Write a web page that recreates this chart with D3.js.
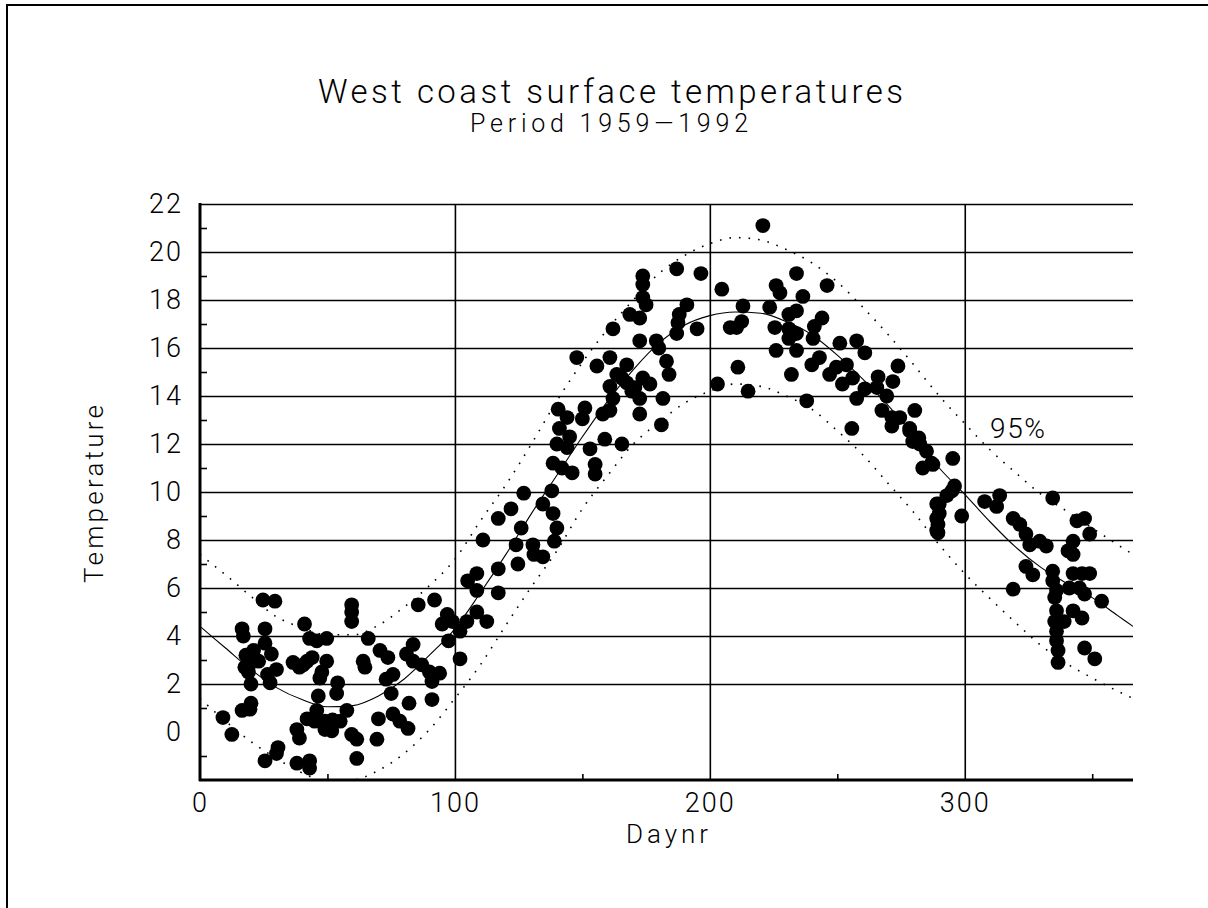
<!DOCTYPE html>
<html>
<head>
<meta charset="utf-8">
<script src="https://cdn.jsdelivr.net/npm/d3@7"></script>
<style>
  body { margin: 0; background: #fff; overflow: hidden; }
  text { font-family: Roboto, "DejaVu Sans", sans-serif; font-weight: 300; fill: #000; }
</style>
</head>
<body>
<svg id="chart" width="1208" height="908"></svg>
<script>
var obs0 = [[9,0.6],[12.5,-0.1],[16.5,4.3],[17,4.0],[18,3.2],[17.6,2.7],[20,2.9],[20,2.0],[16.5,0.9],[20,1.2],[19.6,0.95],
  [24.7,5.5],[29.4,5.45],[25.5,4.3],[25.5,3.7],[28,3.25],[23,2.95],[30,2.6],[27.5,2.05],[25.5,-1.2],[30.6,-0.65],[30,-0.9],
  [38,0.1],[39,-0.25],[42,0.55],[38,-1.3],[43,-1.2],[43,-1.5],[36.5,2.9],[39,2.7],[42,2.95],[44,3.1],[41,4.5],[43,3.9],
  [45.8,3.8],[49.7,3.9],[49.7,2.95],[47.8,2.5],[47,2.25],[46.4,1.5],[45.8,0.9],[45,0.45],[49,0.45],[49,0.1],[51.7,0.05],
  [54,2.05],[53.6,1.6],[57.6,0.9],[55,0.45],[59.5,-0.1],[61.5,-0.3],[61.5,-1.1],[59.5,5.3],[59.5,5.0],[59.5,4.6],[66,3.9],
  [64,2.95],[64.7,2.7],[70.6,3.4],[73.7,3.1],[69.4,-0.3],[70,0.55],[75.7,2.4],[73,2.2],[75,1.6],[75.7,0.75],[78.4,0.45],
  [81.6,0.15],[82,1.2],[85.6,5.3],[92,5.5],[81,3.25],[83.6,3.65],[83.6,2.95],[87,2.8],[90,2.5],[91,2.1],[91,1.35],[94,2.45],
  [97,4.9],[95,4.5],[97.5,3.8],[21,3.4],[19,2.5],[26.5,2.4],[40.5,2.8],[52,0.5]];
var obs1 = [[102,3.05],[99,4.6],[102,4.2],[104.7,4.6],[108.6,5.0],[112.5,4.6],[105,6.3],[108.6,6.6],[108.6,5.9],[117,5.8],
  [117,6.8],[111,8.0],[117,8.9],[122,9.3],[127,9.95],[124,7.8],[124.7,7.0],[126,8.5],[130.6,7.8],[134.5,7.3],[131,7.4],
  [134.5,9.5],[138,10.05],[138.5,9.1],[140,8.5],[139,7.95],[138.5,11.2],[142,11.0],[146,10.8],[140,12.0],[141,12.65],
  [140.5,13.45],[144,13.1],[145,12.3],[144,11.85],[147.8,15.6],[151,13.5],[150,13.05],[153,11.8],[155,11.15],[155,10.75],
  [155.7,15.25],[158,13.25],[158.8,12.2],[160.8,15.6],[160.8,14.4],[162,13.9],[160.8,13.4],[162,16.8],[165.5,12.0],
  [165.5,14.75],[167.4,15.3],[168.6,17.4],[169.4,14.2],[172.5,16.3],[172.5,17.25],[173.7,19.0],[173.7,18.65],[173.7,18.1],
  [175,17.8],[172.5,13.9],[172.5,13.25],[173.7,14.75],[170.6,14.35],[176.5,14.5],[179,16.3],[180,16.0],[183,15.45],
  [184,14.9],[181.6,13.9],[181,12.8],[187,19.3],[188,17.4],[187.5,17.05],[191,17.8],[187,16.6],[195,16.8],[196.5,19.1],
  [163.5,14.9],[167.4,14.55]];
var obs2 = [[220.8,21.1],[204.7,18.45],[213,17.75],[212.5,17.1],[210.5,16.85],[208,16.85],[211,15.2],[203,14.5],[215,14.2],
  [234,19.1],[226,18.6],[227.5,18.3],[223.5,17.7],[236.5,18.15],[246,18.6],[231,17.4],[234,17.55],[225.5,16.85],[231,16.8],
  [234,16.6],[231,16.4],[234,15.9],[226,15.9],[232,14.9],[238,13.8],[244,17.25],[241,16.9],[240.5,16.4],[240,15.3],
  [243,15.6],[251,16.2],[257.6,16.3],[260.8,15.8],[247,14.9],[249.6,15.2],[253.6,15.3],[252,14.5],[256,14.75],[257.6,13.9],
  [260.8,14.3],[255.7,12.65],[266,14.8],[265.5,14.35],[271.8,14.6],[273.8,15.25],[269.4,14.0],[267.5,13.4],[271.4,13.1],
  [271.4,12.75],[274.5,13.1],[280.4,13.4],[278.4,12.65],[279.6,12.1],[282.4,12.0],[285,11.7],[283.5,11.0],[287.5,11.15],
  [289,9.5],[289,8.9],[289,8.4]];
var obs3 = [[278.4,12.55],[282,12.25],[287,11.2],[295.3,11.4],[295,10.05],[296,10.25],[293,9.85],[290,9.5],[290,9.1],
  [289.5,8.65],[289.5,8.3],[298.8,9.0],[307.8,9.6],[313.7,9.85],[312.5,9.4],[319,8.9],[321.6,8.65],[324,8.25],[325.5,7.8],
  [329.4,7.95],[332,7.75],[334.5,9.75],[324,6.9],[326.7,6.55],[319,5.95],[334.5,6.7],[334.5,6.3],[336,5.9],[335.3,5.6],
  [336,5.05],[335.3,4.6],[336,4.2],[336,3.8],[336.6,3.4],[336.6,2.9],[339,4.6],[342.5,7.4],[344,8.8],[347,8.9],[349,8.25],
  [342.5,7.95],[340.5,7.55],[342.5,6.6],[346,6.6],[349,6.6],[341,6.0],[345,6.0],[347,5.75],[342.5,5.05],[346,4.75],
  [353.7,5.45],[347,3.5],[351,3.05]];

// fitted curve and 95% band, read every 10 days
var curveDays = [0,10,20,30,40,50,60,70,80,90,100,110,120,130,140,150,160,170,180,190,200,210,220,230,240,250,260,270,280,290,300,310,320,330,340,350,360,366];
var fitTemp = [4.4,3.5,2.6,1.85,1.35,1.05,1.1,1.5,2.2,3.2,4.3,5.8,7.4,9.1,10.7,12.3,13.8,15.1,16.2,16.95,17.35,17.5,17.45,17.1,16.55,15.7,14.7,13.6,12.35,11.0,9.9,8.75,7.7,6.85,6.2,5.6,4.85,4.4];
var upperTemp = [7.4,6.55,5.65,4.8,4.35,4.05,4.05,4.45,5.2,6.1,7.2,8.8,10.3,12.0,13.8,15.4,16.8,18.0,19.1,19.85,20.35,20.6,20.5,20.1,19.55,18.75,17.7,16.55,15.3,14.0,12.85,11.75,10.8,9.9,9.2,8.5,7.8,7.4];
var lowerTemp = [1.4,0.45,-0.4,-1.1,-1.7,-2.05,-2.0,-1.6,-0.9,0.1,1.4,2.8,4.45,6.05,7.55,9.3,10.7,12.0,12.9,13.7,14.2,14.5,14.4,14.0,13.45,12.55,11.55,10.35,9.15,7.8,6.6,5.55,4.55,3.6,2.85,2.25,1.7,1.4];

var yTicks = [0,2,4,6,8,10,12,14,16,18,20,22];
var yMinor = [-1,1,3,5,7,9,11,13,15,17,19,21];
var xTicks = [0,100,200,300];
var xMinor = [50,150,250,350];

var svg = d3.select("#chart");
var x = d3.scaleLinear().domain([0, 366]).range([200, 1133]);
var y = d3.scaleLinear().domain([-2, 22]).range([780, 204]);

// outer frame: only the left and top edges are in view
svg.append("path").attr("d", "M7,908V5H1208")
    .attr("fill", "none").attr("stroke", "#000").attr("stroke-width", 2);

// titles
svg.append("text").attr("x", 318).attr("y", 103).attr("font-size", 33)
    .attr("textLength", 585).attr("lengthAdjust", "spacing")
    .text("West coast surface temperatures");
svg.append("text").attr("x", 470).attr("y", 132).attr("font-size", 25)
    .attr("textLength", 278).attr("lengthAdjust", "spacing")
    .text("Period 1959\u20141992");

// grid
svg.append("g").attr("transform", "translate(200,0)")
    .call(d3.axisLeft(y).tickValues(yTicks.slice(1)).tickSize(-933).tickFormat(""))
    .call(function(g) { g.select(".domain").remove(); })
    .selectAll("line").attr("stroke", "#000").attr("stroke-width", 1.6);
svg.append("g").attr("transform", "translate(0,780)")
    .call(d3.axisBottom(x).tickValues(xTicks.slice(1)).tickSize(-576).tickFormat(""))
    .call(function(g) { g.select(".domain").remove(); })
    .selectAll("line").attr("stroke", "#000").attr("stroke-width", 1.6);

// minor ticks on the inside of the axes
svg.append("g").attr("transform", "translate(200,0)")
    .call(d3.axisRight(y).tickValues(yMinor).tickSize(7).tickFormat(""))
    .call(function(g) { g.select(".domain").remove(); })
    .selectAll("line").attr("stroke", "#000").attr("stroke-width", 1.6);
svg.append("g").attr("transform", "translate(0,780)")
    .call(d3.axisTop(x).tickValues(xMinor).tickSize(6).tickFormat(""))
    .call(function(g) { g.select(".domain").remove(); })
    .selectAll("line").attr("stroke", "#000").attr("stroke-width", 1.6);

// tick labels
svg.append("g").attr("transform", "translate(200,0)")
    .call(d3.axisLeft(y).tickValues(yTicks).tickSize(0).tickPadding(17))
    .call(function(g) { g.select(".domain").remove(); })
    .selectAll("text").attr("font-size", 27).attr("font-family", null).attr("letter-spacing", 2);
svg.append("g").attr("transform", "translate(0,780)")
    .call(d3.axisBottom(x).tickValues(xTicks).tickSize(0).tickPadding(13))
    .call(function(g) { g.select(".domain").remove(); })
    .selectAll("text").attr("font-size", 27).attr("font-family", null).attr("letter-spacing", 2);

// axis labels
svg.append("text").attr("transform", "translate(103,494) rotate(-90)")
    .attr("text-anchor", "middle").attr("font-size", 26)
    .attr("textLength", 178).attr("lengthAdjust", "spacing")
    .text("Temperature");
svg.append("text").attr("x", 626).attr("y", 843).attr("font-size", 26)
    .attr("textLength", 82).attr("lengthAdjust", "spacing")
    .text("Daynr");

// curves, clipped to plot area
svg.append("clipPath").attr("id", "plotclip")
    .append("rect").attr("x", 200).attr("y", 204).attr("width", 933).attr("height", 576);

function curveLine(vals) {
    return d3.line()
        .x(function(d, i) { return x(curveDays[i]); })
        .y(function(d) { return y(d); })
        .curve(d3.curveMonotoneX)(vals);
}

var curves = svg.append("g").attr("clip-path", "url(#plotclip)");
curves.append("path").attr("d", curveLine(fitTemp))
    .attr("fill", "none").attr("stroke", "#000").attr("stroke-width", 1.1);
[upperTemp, lowerTemp].forEach(function(vals) {
    curves.append("path").attr("d", curveLine(vals))
        .attr("fill", "none").attr("stroke", "#000").attr("stroke-width", 1.6)
        .attr("stroke-dasharray", "1.6,8");
});

svg.append("text").attr("x", 990).attr("y", 438).attr("font-size", 28)
    .attr("textLength", 55).attr("lengthAdjust", "spacing")
    .text("95%");

// observations
var allObs = obs0.concat(obs1, obs2, obs3);
svg.append("g")
    .selectAll("circle")
    .data(allObs)
    .enter()
    .append("circle")
    .attr("cx", function(d) { return x(d[0]); })
    .attr("cy", function(d) { return y(d[1]); })
    .attr("r", 7.4)
    .attr("fill", "#000");

// axis lines on top
svg.append("line").attr("x1", 200).attr("x2", 200).attr("y1", 203).attr("y2", 781)
    .attr("stroke", "#000").attr("stroke-width", 3);
svg.append("line").attr("x1", 199).attr("x2", 1133).attr("y1", 780).attr("y2", 780)
    .attr("stroke", "#000").attr("stroke-width", 3);
</script>
</body>
</html>
